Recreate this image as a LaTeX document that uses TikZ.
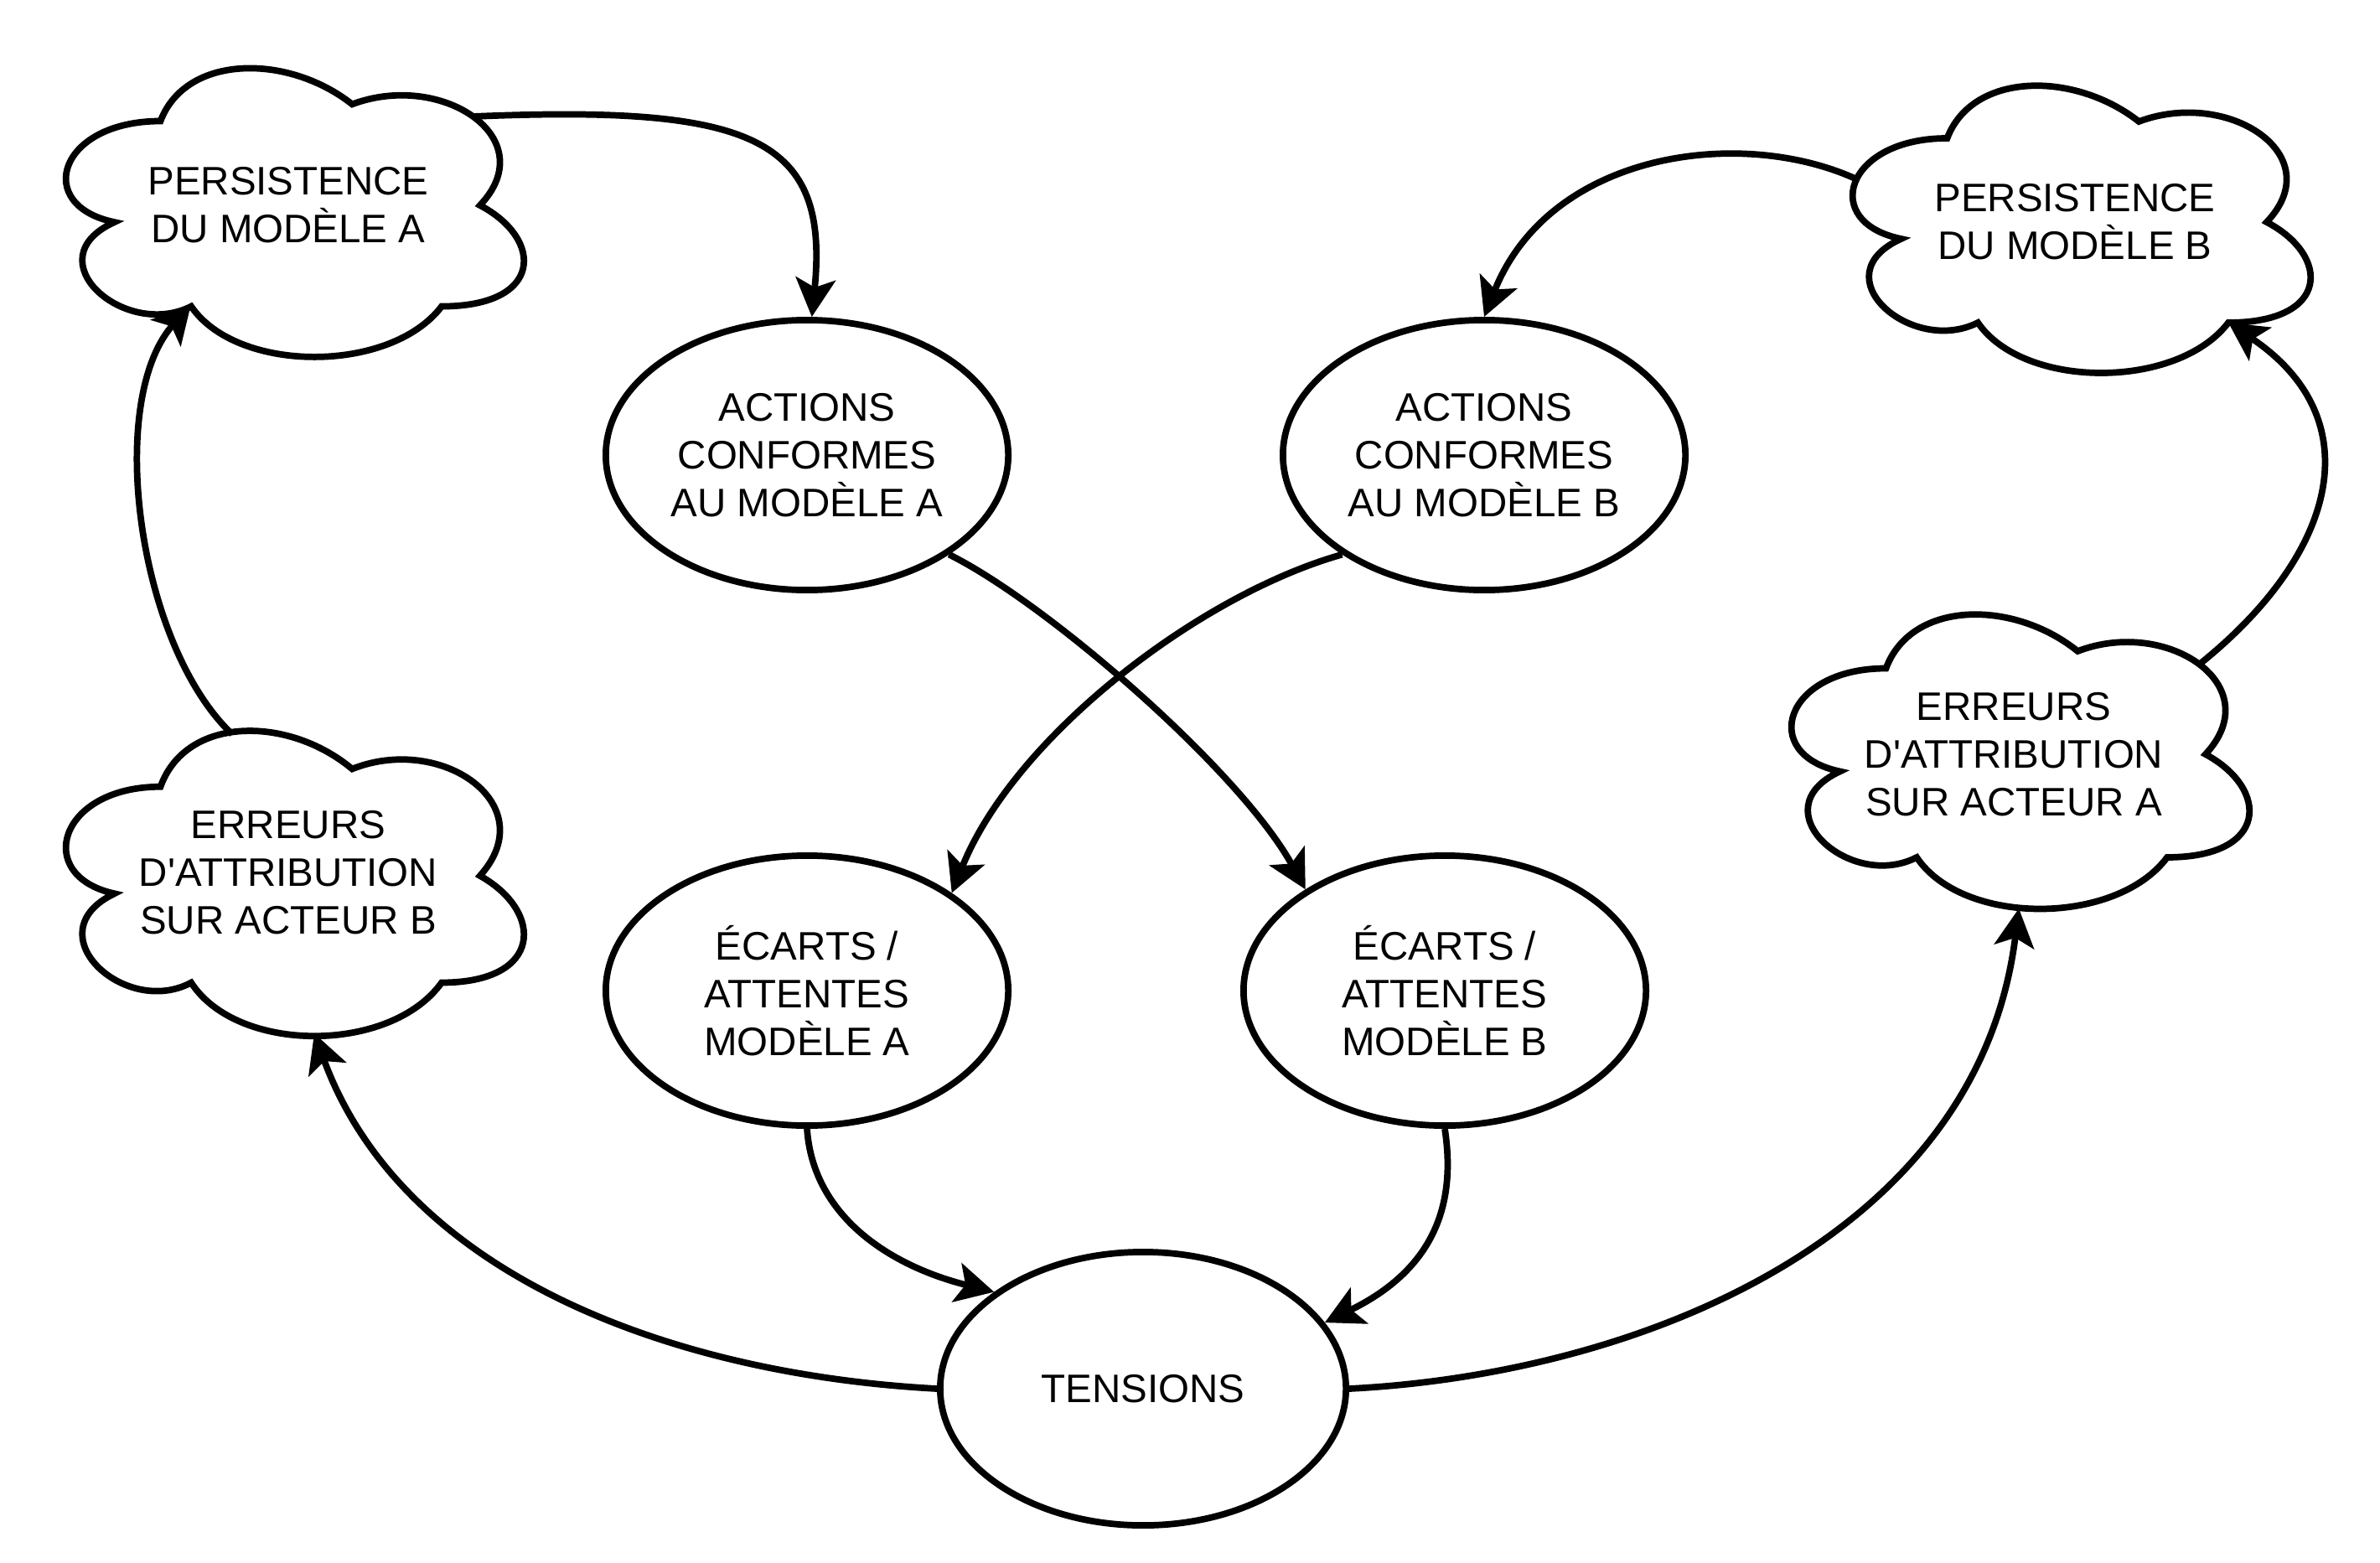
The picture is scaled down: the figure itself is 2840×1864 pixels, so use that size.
\documentclass[tikz,border=0pt]{standalone}
\usepackage{fontspec}
\setmainfont{Liberation Sans}
\usetikzlibrary{arrows.meta,shapes.geometric,calc}
\begin{document}
\begin{tikzpicture}[x=0.01cm,y=-0.01cm,
  every node/.style={font=\fontsize{13.5}{16.2}\selectfont, align=center},
  ell/.style={draw, ellipse, line width=2.2pt, fill=white, minimum width=4.8cm, minimum height=3.22cm, inner sep=0pt},
  lbl/.style={inner sep=0pt},
  cloudline/.style={draw, line width=2.2pt, fill=white},
  conn/.style={line width=2.2pt, -{Stealth[length=13pt,width=13.5pt,inset=3pt]}},
]
\useasboundingbox (0,0) rectangle (2840,1864);
\fill[white] (0,0) rectangle (2840,1864);

% cloud outline (draw.io cloud), unit box centered at origin
\def\cloudshape{(-0.25,-0.25) .. controls (-0.45,-0.25) and (-0.5,0) .. (-0.34,0.05)
  .. controls (-0.5,0.16) and (-0.32,0.4) .. (-0.19,0.3)
  .. controls (-0.1,0.5) and (0.2,0.5) .. (0.3,0.3)
  .. controls (0.5,0.3) and (0.5,0.1) .. (0.375,0)
  .. controls (0.5,-0.2) and (0.3,-0.4) .. (0.125,-0.3)
  .. controls (0,-0.45) and (-0.2,-0.45) .. (-0.25,-0.25) -- cycle}

\begin{scope}[shift={(344,245)},xscale=610,yscale=402]
  \path[cloudline] \cloudshape;
\end{scope}
\begin{scope}[shift={(2476,265)},xscale=610,yscale=400]
  \path[cloudline] \cloudshape;
\end{scope}
\begin{scope}[shift={(344,1045)},xscale=610,yscale=425]
  \path[cloudline] \cloudshape;
\end{scope}
\begin{scope}[shift={(2403,900)},xscale=610,yscale=410]
  \path[cloudline] \cloudshape;
\end{scope}

% cloud labels (named)
\node[lbl] (pa) at (344,245) {PERSISTENCE\\DU MODÈLE A};
\node[lbl] (pb) at (2476,265) {PERSISTENCE\\DU MODÈLE B};
\node[lbl] (erb) at (344,1041) {ERREURS\\D\textquotesingle ATTRIBUTION\\SUR ACTEUR B};
\node[lbl] (era) at (2403,900) {ERREURS\\D\textquotesingle ATTRIBUTION\\SUR ACTEUR A};

% ellipses
\node[ell] (actA) at (963,543) {ACTIONS\\CONFORMES\\AU MODÈLE A};
\node[ell] (actB) at (1771,543) {ACTIONS\\CONFORMES\\AU MODÈLE B};
\node[ell] (ecA) at (963,1182) {ÉCARTS /\\ATTENTES\\MODÈLE A};
\node[ell] (ecB) at (1724,1182) {ÉCARTS /\\ATTENTES\\MODÈLE B};
\node[ell, minimum width=4.84cm, minimum height=3.26cm] (ten) at (1364,1657) {TENSIONS};

% connectors
\draw[conn] ($(pa.center)+(221,-106)$) .. controls (900,125) and (990,165) .. (actA.88);
\draw[conn] ($(pb.center)+(-258,-50)$) .. controls (2080,150) and (1850,180) .. (actB.north);
\draw[conn] (actA.-35) .. controls (1250,720) and (1480,920) .. (ecB.144);
\draw[conn] (actB.-145) .. controls (1430,710) and (1210,880) .. (ecA.34);
\draw[conn] (ecA.south) .. controls (970,1450) and (1060,1510) .. (ten.147);
\draw[conn] (ecB.south) .. controls (1740,1450) and (1700,1520) .. (ten.20);
\draw[conn] (ten.west) .. controls (800,1640) and (480,1520) .. ($(erb.center)+(31,192)$);
\draw[conn] (ten.east) .. controls (1950,1640) and (2360,1480) .. ($(era.center)+(6,184)$);
\draw[conn] ($(erb.center)+(-67,-165)$) .. controls (165,770) and (125,480) .. ($(pa.center)+(-116,118)$);
\draw[conn] ($(era.center)+(221,-107)$) .. controls (2790,660) and (2830,500) .. ($(pb.center)+(183,120)$);
\end{tikzpicture}
\end{document}
